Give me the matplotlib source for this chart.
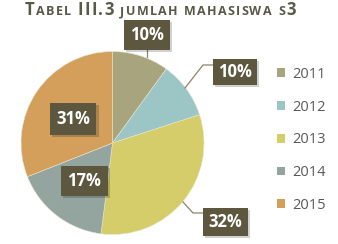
import matplotlib
matplotlib.use("Agg")
import matplotlib.pyplot as plt
from matplotlib.patches import Rectangle
from matplotlib.lines import Line2D
import numpy as np

years = ["2011", "2012", "2013", "2014", "2015"]
shares = [10, 10, 32, 17, 31]
labels = ["10%", "10%", "32%", "17%", "31%"]
colors = ["#a8a47d", "#9cc5c5", "#d4cd6a", "#94a49f", "#d39f5b"]

W, H = 338, 244
fig = plt.figure(figsize=(W / 100, H / 100), dpi=100)
fig.patch.set_facecolor("white")

def fx(px):
    return px / W

def fy(py):
    return 1 - py / H

cx, cy, R = 112.5, 143, 91.5
ax = fig.add_axes([fx(cx - R), fy(cy + R), 2 * R / W, 2 * R / H])
ax.axis("off")

wedges, _ = ax.pie(shares, colors=colors, startangle=90, counterclock=False,
                   radius=1.0, wedgeprops=dict(edgecolor="#e8e4d0", linewidth=0.4))
ax.set_xlim(-1, 1)
ax.set_ylim(-1, 1)
ax.set_aspect("equal")

# label boxes (pixel layout: center x, center y, width, height)
boxes = [(147, 35, 46, 30), (235, 72, 44, 26), (225, 222, 45, 28),
         (84, 181, 47, 30), (73, 119, 47, 32)]
box_col = "#5e573f"
for (bx, by, bw, bh), lab in zip(boxes, labels):
    sh = Rectangle((fx(bx - bw / 2 + 2), fy(by + bh / 2 + 2)), bw / W, bh / H,
                   transform=fig.transFigure, facecolor="#000000", alpha=0.18,
                   edgecolor="none", zorder=5)
    fig.add_artist(sh)
    r = Rectangle((fx(bx - bw / 2), fy(by + bh / 2)), bw / W, bh / H,
                  transform=fig.transFigure, facecolor=box_col,
                  edgecolor="none", zorder=6)
    fig.add_artist(r)
    fig.text(fx(bx), fy(by), lab, ha="center", va="center", color="white",
             fontsize=12, fontweight="bold", family="Open Sans", zorder=7)

# leader lines (pixel coords)
lc = "#8a8468"
leaders = [
    [(147, 50), (147, 57)],
    [(185, 88), (203, 65), (213, 65)],
    [(183, 202), (193, 213), (203, 213)],
]
for pts in leaders:
    xs = [fx(p[0]) for p in pts]
    ys = [fy(p[1]) for p in pts]
    fig.add_artist(Line2D(xs, ys, transform=fig.transFigure, color=lc,
                          linewidth=0.9, zorder=4))

# title in small caps, placed character by character with tracking
title_col = "#595949"
parts = [("T", 12.0), ("ABEL", 9.0), (" ", 9.0), ("III.3", 12.0), (" ", 9.0),
         ("JUMLAH MAHASISWA S", 9.0), ("3", 12.0)]
renderer = fig.canvas.get_renderer()
x = 25
track = 1.25
for s, size in parts:
    for ch in s:
        t = fig.text(fx(x), fy(15), ch, ha="left", va="baseline",
                     color=title_col, fontsize=size, fontweight="bold",
                     family="Open Sans")
        if ch == " ":
            x += size * 1.39 * 0.35 + track
        else:
            bb = t.get_window_extent(renderer=renderer)
            x += bb.width + track

# legend
leg = fig.legend(wedges, years, loc="upper left",
                 bbox_to_anchor=(fx(270), fy(59.5)), frameon=False,
                 fontsize=10.5, labelspacing=1.22, handlelength=0.55,
                 handleheight=0.55, handletextpad=0.45, borderpad=0)
for txt in leg.get_texts():
    txt.set_color("#595959")
    txt.set_family("Open Sans")
for h in leg.legend_handles:
    h.set_edgecolor("none")

fig.savefig("out.png", dpi=100, facecolor="white")
